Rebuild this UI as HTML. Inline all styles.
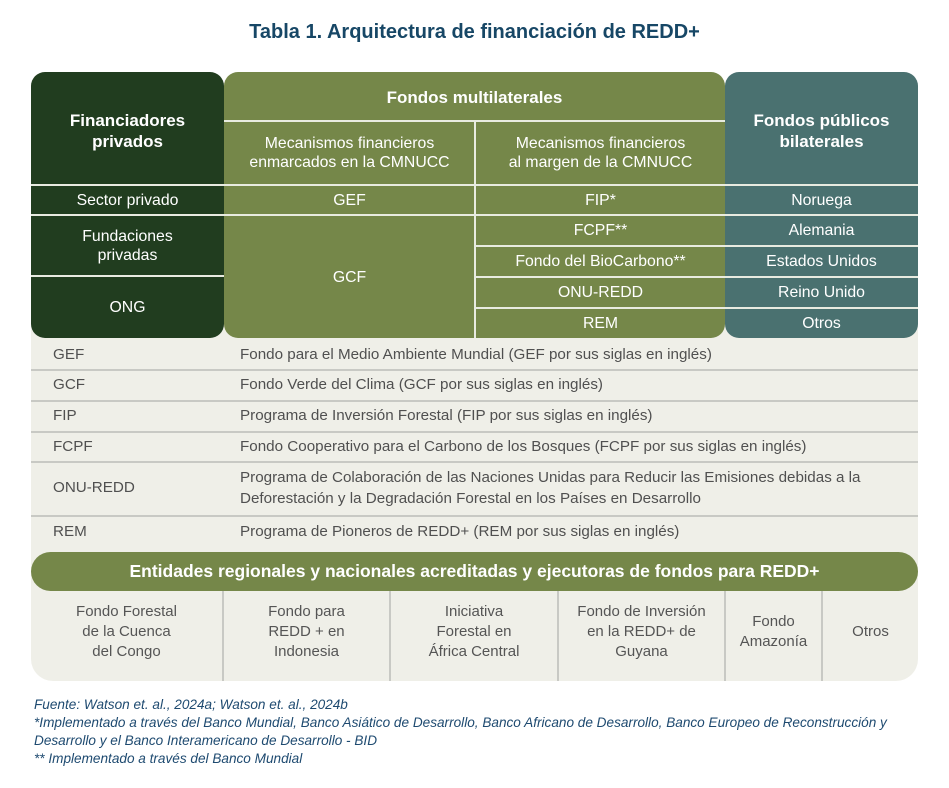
<!DOCTYPE html>
<html><head><meta charset="utf-8"><style>
*{margin:0;padding:0;box-sizing:border-box}
body{width:949px;height:788px;background:#fff;position:relative;font-family:"Liberation Sans",sans-serif;overflow:hidden}
.a{position:absolute}
.c{position:absolute;display:flex;align-items:center;justify-content:center;text-align:center;color:#fff;font-size:15.8px;line-height:19px}
.h{position:absolute;height:2px;background:#e8ebe0}
.v{position:absolute;width:2px;background:#e8ebe0}
.g{position:absolute;height:2px;background:#c8c9c4}
.l{position:absolute;color:#505050;font-size:15.2px;line-height:20px}
.b{position:absolute;display:flex;align-items:center;justify-content:center;text-align:center;color:#555;font-size:15px;line-height:20px}
.gv{position:absolute;width:2px;background:#c8c9c4;top:591px;height:90px}
.f{position:absolute;left:34px;color:#1e4a70;font-style:italic;font-size:13.6px;line-height:18px;white-space:nowrap}
</style></head><body>
<div class="a" style="left:0;width:949px;top:21px;text-align:center;font-weight:bold;font-size:20px;color:#174766">Tabla 1. Arquitectura de financiación de REDD+</div>

<div class="a" style="left:31px;top:300px;width:887px;height:381px;background:#efefe8;border-radius:0 0 22px 22px"></div>

<div class="a" style="left:31px;top:72px;width:193px;height:266px;background:#213d1f;border-radius:14px"></div>
<div class="a" style="left:224px;top:72px;width:501px;height:266px;background:#758749;border-radius:14px"></div>
<div class="a" style="left:725px;top:72px;width:193px;height:266px;background:#4a7170;border-radius:14px"></div>

<div class="h" style="left:224px;top:120px;width:501px"></div>
<div class="v" style="left:474px;top:121px;height:217px"></div>
<div class="h" style="left:31px;top:184px;width:887px"></div>
<div class="h" style="left:31px;top:214px;width:887px"></div>
<div class="h" style="left:31px;top:275px;width:193px"></div>
<div class="h" style="left:476px;top:245px;width:442px"></div>
<div class="h" style="left:476px;top:276px;width:442px"></div>
<div class="h" style="left:476px;top:307px;width:442px"></div>

<div class="c" style="left:31px;top:100px;width:193px;height:62px;font-weight:bold;font-size:17px;line-height:21px">Financiadores<br>privados</div>
<div class="c" style="left:224px;top:82px;width:501px;height:30px;font-weight:bold;font-size:17px">Fondos multilaterales</div>
<div class="c" style="left:725px;top:100px;width:193px;height:62px;font-weight:bold;font-size:17px;line-height:21px">Fondos públicos<br>bilaterales</div>
<div class="c" style="left:224px;top:122px;width:251px;height:62px">Mecanismos financieros<br>enmarcados en la CMNUCC</div>
<div class="c" style="left:476px;top:122px;width:249px;height:62px">Mecanismos financieros<br>al margen de la CMNUCC</div>

<div class="c" style="left:31px;top:186px;width:193px;height:28px">Sector privado</div>
<div class="c" style="left:31px;top:216px;width:193px;height:59px">Fundaciones<br>privadas</div>
<div class="c" style="left:31px;top:277px;width:193px;height:61px">ONG</div>
<div class="c" style="left:224px;top:186px;width:251px;height:28px">GEF</div>
<div class="c" style="left:224px;top:216px;width:251px;height:122px">GCF</div>
<div class="c" style="left:476px;top:186px;width:249px;height:28px">FIP*</div>
<div class="c" style="left:476px;top:216px;width:249px;height:29px">FCPF**</div>
<div class="c" style="left:476px;top:247px;width:249px;height:29px">Fondo del BioCarbono**</div>
<div class="c" style="left:476px;top:278px;width:249px;height:29px">ONU-REDD</div>
<div class="c" style="left:476px;top:309px;width:249px;height:29px">REM</div>
<div class="c" style="left:725px;top:186px;width:193px;height:28px">Noruega</div>
<div class="c" style="left:725px;top:216px;width:193px;height:29px">Alemania</div>
<div class="c" style="left:725px;top:247px;width:193px;height:29px">Estados Unidos</div>
<div class="c" style="left:725px;top:278px;width:193px;height:29px">Reino Unido</div>
<div class="c" style="left:725px;top:309px;width:193px;height:29px">Otros</div>

<div class="l" style="left:53px;top:345px">GEF</div>
<div class="l" style="left:240px;top:345px">Fondo para el Medio Ambiente Mundial (GEF por sus siglas en inglés)</div>
<div class="g" style="left:31px;top:369px;width:887px"></div>
<div class="l" style="left:53px;top:375px">GCF</div>
<div class="l" style="left:240px;top:375px">Fondo Verde del Clima (GCF por sus siglas en inglés)</div>
<div class="g" style="left:31px;top:400px;width:887px"></div>
<div class="l" style="left:53px;top:406px">FIP</div>
<div class="l" style="left:240px;top:406px">Programa de Inversión Forestal (FIP por sus siglas en inglés)</div>
<div class="g" style="left:31px;top:431px;width:887px"></div>
<div class="l" style="left:53px;top:437px">FCPF</div>
<div class="l" style="left:240px;top:437px">Fondo Cooperativo para el Carbono de los Bosques (FCPF por sus siglas en inglés)</div>
<div class="g" style="left:31px;top:461px;width:887px"></div>
<div class="l" style="left:53px;top:478px">ONU-REDD</div>
<div class="l" style="left:240px;top:467px;line-height:21px">Programa de Colaboración de las Naciones Unidas para Reducir las Emisiones debidas a la<br>Deforestación y la Degradación Forestal en los Países en Desarrollo</div>
<div class="g" style="left:31px;top:515px;width:887px"></div>
<div class="l" style="left:53px;top:522px">REM</div>
<div class="l" style="left:240px;top:522px">Programa de Pioneros de REDD+ (REM por sus siglas en inglés)</div>

<div class="c" style="left:31px;top:552px;width:887px;height:39px;background:#758749;border-radius:20px;font-weight:bold;font-size:17.5px">Entidades regionales y nacionales acreditadas y ejecutoras de fondos para REDD+</div>

<div class="gv" style="left:222px"></div>
<div class="gv" style="left:389px"></div>
<div class="gv" style="left:557px"></div>
<div class="gv" style="left:724px"></div>
<div class="gv" style="left:821px"></div>
<div class="b" style="left:31px;top:597px;width:191px;height:70px">Fondo Forestal<br>de la Cuenca<br>del Congo</div>
<div class="b" style="left:224px;top:597px;width:165px;height:70px">Fondo para<br>REDD + en<br>Indonesia</div>
<div class="b" style="left:391px;top:597px;width:166px;height:70px">Iniciativa<br>Forestal en<br>África Central</div>
<div class="b" style="left:559px;top:597px;width:165px;height:70px">Fondo de Inversión<br>en la REDD+ de<br>Guyana</div>
<div class="b" style="left:726px;top:597px;width:95px;height:70px">Fondo<br>Amazonía</div>
<div class="b" style="left:823px;top:597px;width:95px;height:70px">Otros</div>

<div class="f" style="top:696px">Fuente: Watson et. al., 2024a; Watson et. al., 2024b</div>
<div class="f" style="top:714px">*Implementado a través del Banco Mundial, Banco Asiático de Desarrollo, Banco Africano de Desarrollo, Banco Europeo de Reconstrucción y</div>
<div class="f" style="top:732px">Desarrollo y el Banco Interamericano de Desarrollo - BID</div>
<div class="f" style="top:750px">** Implementado a través del Banco Mundial</div>
</body></html>
